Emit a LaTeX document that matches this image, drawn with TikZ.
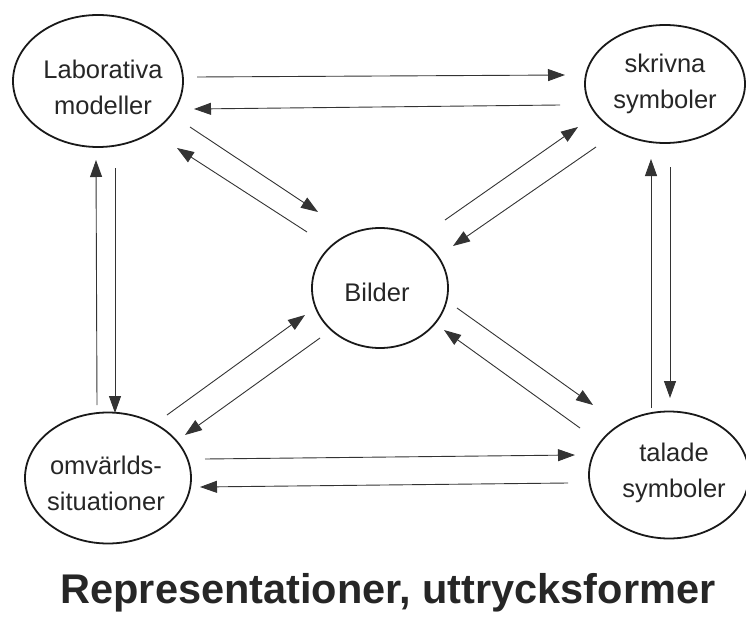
\documentclass[tikz,border=0pt]{standalone}
\usepackage{fontspec}
\setmainfont{Liberation Sans}
\usetikzlibrary{shapes.geometric,arrows.meta}
\tikzset{
  ell/.style={ellipse, draw=black!90, line width=1.8pt, inner sep=0pt, outer sep=0pt},
  lbl/.style={align=center, inner sep=0pt, font=\fontsize{25.5}{36}\selectfont, text=black!85},
  arr/.style={draw=black!80, line width=0.9pt, -{Triangle[length=17pt,width=12pt]}},
}
\begin{document}
\begin{tikzpicture}[x=1pt,y=-1pt]
\useasboundingbox (0,0) rectangle (746,623);
% ellipses
\node[ell, minimum width=170pt, minimum height=132pt] (L) at (98,81) {};
\node[ell, minimum width=160pt, minimum height=118pt] (S) at (665,84) {};
\node[ell, minimum width=136pt, minimum height=120pt] (B) at (380,288) {};
\node[ell, minimum width=166pt, minimum height=131pt] (O) at (108,478) {};
\node[ell, minimum width=160pt, minimum height=127pt] (T) at (669,475) {};
% texts
\node[lbl] (Lt) at (103,87) {Laborativa\\modeller};
\node[lbl] (St) at (665,84) {skrivna\\symboler};
\node[lbl] (Bt) at (377,292) {Bilder};
\node[lbl] (Ot) at (106,483) {omvärlds-\\situationer};
\node[lbl] (Tt) at (674,473) {talade\\symboler};
\node[anchor=base, inner sep=0pt, font=\fontsize{41.5}{48}\selectfont\bfseries, text=black!85] (title) at (388,603) {Representationer, uttrycksformer};
% connector end points
\coordinate (a1) at (197,77);  \coordinate (b1) at (565,75);
\coordinate (a2) at (560,105); \coordinate (b2) at (194,109);
\coordinate (a3) at (97,405);  \coordinate (b3) at (96,160);
\coordinate (a4) at (115,168); \coordinate (b4) at (115,413);
\coordinate (a5) at (651,408); \coordinate (b5) at (651,159);
\coordinate (a6) at (670,167); \coordinate (b6) at (670,398);
\coordinate (a7) at (205,459); \coordinate (b7) at (575,455);
\coordinate (a8) at (568,483); \coordinate (b8) at (200,487);
\coordinate (a9) at (190,127); \coordinate (b9) at (318,212);
\coordinate (a10) at (307,232); \coordinate (b10) at (177,148);
\coordinate (a11) at (445,220); \coordinate (b11) at (578,127);
\coordinate (a12) at (596,147); \coordinate (b12) at (453,246);
\coordinate (a13) at (167,415); \coordinate (b13) at (305,315);
\coordinate (a14) at (320,338); \coordinate (b14) at (185,435);
\coordinate (a15) at (457,308); \coordinate (b15) at (593,405);
\coordinate (a16) at (580,428); \coordinate (b16) at (444,330);
\foreach \i in {1,...,16} { \draw[arr] (a\i) -- (b\i); }
\end{tikzpicture}
\end{document}
